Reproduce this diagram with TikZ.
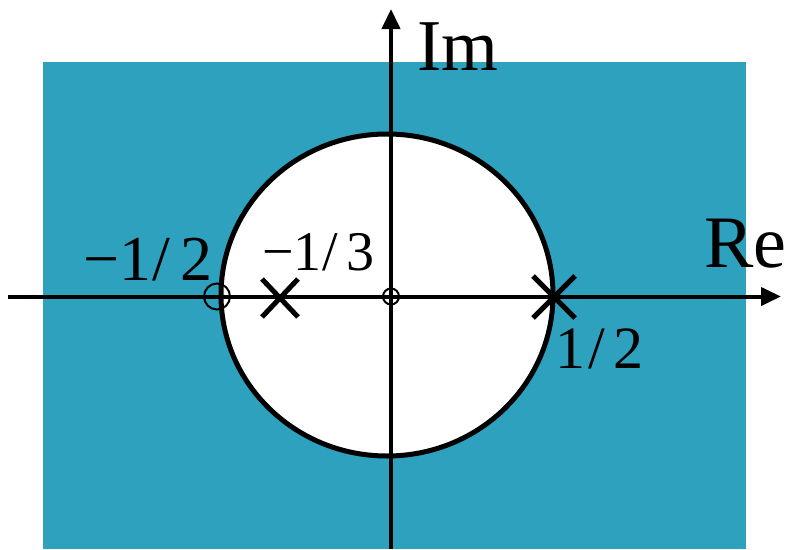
\documentclass[tikz,border=0pt]{standalone}
\usepackage{fontspec}
\setmainfont{Liberation Serif}
\usetikzlibrary{arrows.meta,calc}
\definecolor{teal1}{RGB}{45,161,190}
\tikzset{
  axis/.style={line width=4pt,-{Triangle[length=20pt,width=18pt]}},
  bigtxt/.style={inner sep=0pt,anchor=base west,font=\fontsize{56}{66}\selectfont},
  pole/.style={line width=5pt},
  zero/.style={draw,line width=2pt}
}
\begin{document}
\begin{tikzpicture}[x=1pt,y=-1pt]
\useasboundingbox (0,0) rectangle (790,549);
\fill[teal1] (43,62) rectangle (746,549);
\draw[fill=white,line width=5pt] (387,295) ellipse [x radius=166, y radius=161];
\coordinate (xs) at (8,296.5);
\coordinate (xe) at (781,296.5);
\coordinate (ys) at (391,549);
\coordinate (ye) at (391,9);
\draw[axis] (xs) -- (xe);
\draw[axis] (ys) -- (ye);
\node[zero,circle,minimum size=26pt,inner sep=0pt] (zh) at (217,296.5) {};
\node[zero,circle,minimum size=16pt,inner sep=0pt] (z0) at (391,296.5) {};
\coordinate (p1) at (280,298);
\draw[pole] ($(p1)+(-18,-19)$) -- ($(p1)+(18,19)$) ($(p1)+(-18,19)$) -- ($(p1)+(18,-19)$);
\coordinate (p2) at (554,297);
\draw[pole] ($(p2)+(-21,-21)$) -- ($(p2)+(21,21)$) ($(p2)+(-21,21)$) -- ($(p2)+(21,-21)$);
\node[bigtxt,font=\fontsize{73}{80}\selectfont] (im) at (417,70) {Im};
\node[bigtxt,font=\fontsize{74}{80}\selectfont] (re) at (704,267) {Re};
\node[bigtxt,font=\fontsize{64}{70}\selectfont] (mh) at (83,280) {−1\kern1pt/\kern10pt2};
\node[bigtxt] (mt) at (262,270) {−1\kern1pt/\kern8pt3};
\node[bigtxt,font=\fontsize{60}{70}\selectfont] (ph) at (555,368) {1\kern3pt/\kern9pt2};
\end{tikzpicture}
\end{document}
